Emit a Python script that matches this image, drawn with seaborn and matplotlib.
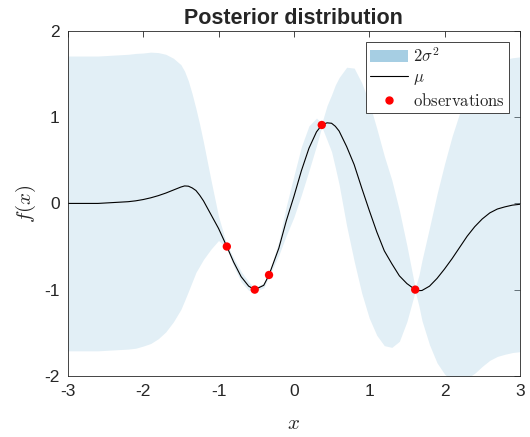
import numpy as np
import pandas as pd
import matplotlib.pyplot as plt
import seaborn as sns
from matplotlib.patches import Patch
from matplotlib.lines import Line2D

sns.set_style('white')
plt.rcParams['font.family'] = ['Liberation Sans', 'DejaVu Sans']
plt.rcParams['mathtext.fontset'] = 'cm'
plt.rcParams['axes.unicode_minus'] = False

# Posterior mean and 2-sigma half width
x_grid = [-3.0, -2.9, -2.8, -2.7, -2.6, -2.5, -2.4, -2.3, -2.2, -2.1,
          -2.0, -1.9, -1.8, -1.7, -1.6, -1.5, -1.45, -1.4, -1.35, -1.3,
          -1.25, -1.2, -1.1, -1.0, -0.89, -0.8, -0.7, -0.6, -0.52, -0.4,
          -0.33, -0.2, -0.1, 0.0, 0.1, 0.2, 0.3, 0.37, 0.44, 0.5,
          0.55, 0.6, 0.7, 0.8, 0.9, 1.0, 1.1, 1.2, 1.3, 1.4,
          1.5, 1.61, 1.66, 1.7, 1.8, 1.9, 2.0, 2.1, 2.2, 2.3,
          2.4, 2.5, 2.6, 2.7, 2.8, 2.9, 3.0]
mu = [0.0, 0.0, 0.0, 0.0, 0.0, 0.005, 0.01, 0.015, 0.02, 0.03,
      0.045, 0.065, 0.09, 0.12, 0.155, 0.19, 0.203, 0.2, 0.18, 0.15,
      0.095, 0.03, -0.13, -0.29, -0.5, -0.68, -0.85, -0.96, -1.0, -0.95,
      -0.83, -0.52, -0.2, 0.08, 0.38, 0.64, 0.83, 0.91, 0.935, 0.93,
      0.895, 0.84, 0.66, 0.45, 0.18, -0.08, -0.33, -0.55, -0.7, -0.84,
      -0.93, -1.0, -1.012, -1.01, -0.96, -0.87, -0.76, -0.64, -0.51, -0.38,
      -0.27, -0.18, -0.11, -0.065, -0.04, -0.02, -0.01]
two_sigma = [1.71, 1.71, 1.71, 1.71, 1.71, 1.71, 1.71, 1.71, 1.71, 1.71,
             1.7, 1.69, 1.66, 1.61, 1.53, 1.42, 1.33, 1.22, 1.09, 0.95,
             0.82, 0.68, 0.4, 0.14, 0.02, 0.05, 0.06, 0.05, 0.02, 0.03,
             0.02, 0.08, 0.17, 0.24, 0.28, 0.26, 0.16, 0.02, 0.2, 0.33,
             0.48, 0.62, 0.92, 1.12, 1.22, 1.25, 1.2, 1.1, 0.97, 0.76,
             0.44, 0.02, 0.18, 0.35, 0.68, 0.98, 1.22, 1.42, 1.56, 1.65,
             1.7, 1.71, 1.71, 1.71, 1.71, 1.71, 1.71]

obs_x = [-0.89, -0.52, -0.33, 0.37, 1.61]
obs_y = [-0.5, -1.0, -0.83, 0.91, -1.0]

df = pd.DataFrame({'x': x_grid, 'mu': mu, 's': two_sigma})
df['lo'] = df['mu'] - df['s']
df['hi'] = df['mu'] + df['s']

band_color = '#a6cee3'
dark = '#262626'

fig = plt.figure(figsize=(5.3, 4.37), dpi=100)
ax = fig.add_axes([0.128, 0.140, 0.853, 0.789])

ax.fill_between(df['x'], df['lo'], df['hi'], color=band_color, alpha=0.32, linewidth=0)
sns.lineplot(data=df, x='x', y='mu', color='black', linewidth=0.8, ax=ax, legend=False)
sns.scatterplot(x=obs_x, y=obs_y, color='red', s=36, edgecolor='none', ax=ax, zorder=3)

ax.set_xlim(-3, 3)
ax.set_ylim(-2, 2)
ax.set_xticks([-3, -2, -1, 0, 1, 2, 3])
ax.set_yticks([-2, -1, 0, 1, 2])
ax.tick_params(direction='in', top=True, right=True, length=4, width=0.6,
               labelsize=12.5, colors=dark, pad=6)
for sp in ax.spines.values():
    sp.set_color(dark)
    sp.set_linewidth(0.6)

ax.set_title('Posterior distribution', fontweight='bold', fontsize=15.5, pad=5)
ax.set_xlabel('$x$', fontsize=15, labelpad=11)
ax.set_ylabel('$f(x)$', fontsize=15, labelpad=4)

handles = [Patch(facecolor=band_color, edgecolor='none'),
           Line2D([], [], color='black', linewidth=0.8),
           Line2D([], [], marker='o', color='red', linestyle='none', markersize=5)]
labels = ['$2\\sigma^2$', '$\\mu$', '$\\mathrm{observations}$']
leg = ax.legend(handles, labels, loc='upper right', fontsize=12, fancybox=False,
                framealpha=1, edgecolor=dark, borderaxespad=0.65, labelspacing=0.3,
                handlelength=2.3, handletextpad=0.3, borderpad=0.25)
leg.get_frame().set_linewidth(0.6)

fig.savefig('out.png', dpi=100)
